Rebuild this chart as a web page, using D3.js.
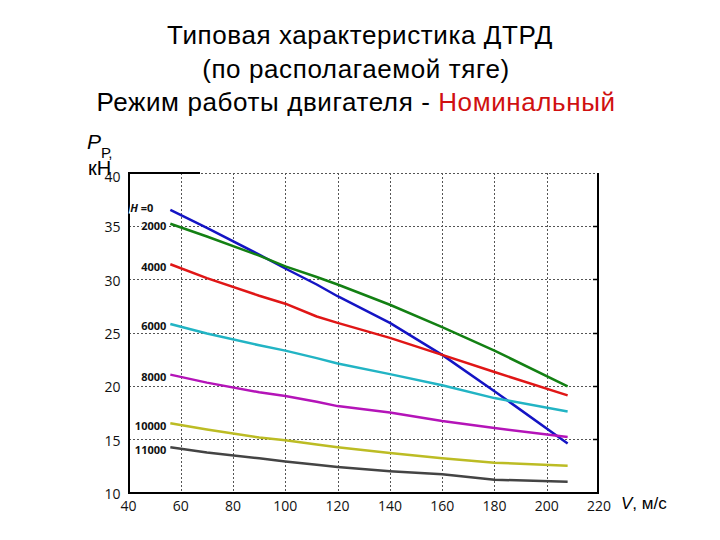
<!DOCTYPE html>
<meta charset="utf-8">
<head>
    <title>ДТРД</title>
</head>

<style>
body { margin: 0; background: #fff; }

.grid line {
  stroke: #555;
  stroke-width: 1;
  stroke-dasharray: 2,2;
  shape-rendering: crispEdges;
}

.frame {
  stroke: #000;
  stroke-width: 2;
  fill: none;
  shape-rendering: crispEdges;
}

.curve {
  fill: none;
  stroke-width: 2.5;
  stroke-linejoin: round;
}

.tick-label {
  font: 14px "Open Sans", sans-serif;
  fill: #111;
}

.alt-label {
  font: bold 11px "Open Sans", sans-serif;
  fill: #111;
  paint-order: stroke;
  stroke: #fff;
  stroke-width: 3px;
}

.title {
  font: 26px "Liberation Sans", Arial, sans-serif;
  letter-spacing: 0.6px;
  fill: #000;
  text-anchor: middle;
}
</style>
<body>
<script src="https://cdn.jsdelivr.net/npm/d3@7"></script>
<script>

// flight speed, m/s
var speeds = [56, 70, 90, 100, 112, 120, 140, 160, 180, 208];

// available thrust, kN, per altitude
var altitudes = ["0", "2000", "4000", "6000", "8000", "10000", "11000"];
var thrustH0     = [36.5, 34.8, 32.3, 31.0, 29.5, 28.4, 25.9, 22.9, 19.5, 14.6];
var thrustH2000  = [35.2, 34.0, 32.2, 31.2, 30.2, 29.5, 27.6, 25.5, 23.3, 19.95];
var thrustH4000  = [31.4, 30.1, 28.45, 27.7, 26.5, 25.9, 24.5, 22.9, 21.3, 19.1];
var thrustH6000  = [25.8, 24.9, 23.8, 23.3, 22.6, 22.1, 21.1, 20.05, 18.85, 17.6];
var thrustH8000  = [21.05, 20.3, 19.4, 19.05, 18.5, 18.1, 17.5, 16.7, 16.05, 15.2];
var thrustH10000 = [16.5, 15.9, 15.15, 14.9, 14.5, 14.25, 13.7, 13.2, 12.8, 12.5];
var thrustH11000 = [14.25, 13.75, 13.2, 12.9, 12.6, 12.4, 12.0, 11.7, 11.2, 11.0];

var xTicks = [40, 60, 80, 100, 120, 140, 160, 180, 200, 220];
var yTicks = [10, 15, 20, 25, 30, 35, 40];

var series = [thrustH0, thrustH2000, thrustH4000, thrustH6000, thrustH8000, thrustH10000, thrustH11000];
var colors = ["#1414c4", "#138013", "#e01616", "#22b4c4", "#b414b8", "#bcbc24", "#444444"];

var width = 720, height = 540;
var plot = {left: 128.5, right: 599, top: 172.5, bottom: 492.5};

var x = d3.scaleLinear().domain([40, 220]).range([plot.left, plot.right]);
var y = d3.scaleLinear().domain([10, 40]).range([plot.bottom, plot.top]);

var svg = d3.select("body").append("svg")
    .attr("width", width)
    .attr("height", height);

// title
var title = svg.append("g");
title.append("text").attr("class", "title").attr("x", 360).attr("y", 44)
    .text("Типовая характеристика ДТРД");
title.append("text").attr("class", "title").attr("x", 356).attr("y", 78)
    .text("(по располагаемой тяге)");
var t3 = title.append("text").attr("class", "title").attr("x", 356).attr("y", 111);
t3.append("tspan").text("Режим работы двигателя - ");
t3.append("tspan").style("fill", "#d01010").text("Номинальный");

// grid
var grid = svg.append("g").attr("class", "grid");
grid.selectAll(".gx")
    .data(xTicks.slice(1, -1))
  .enter().append("line")
    .attr("x1", function(d) { return Math.round(x(d)) + 0.5; })
    .attr("x2", function(d) { return Math.round(x(d)) + 0.5; })
    .attr("y1", plot.top)
    .attr("y2", plot.bottom);
grid.selectAll(".gy")
    .data(yTicks.slice(1))
  .enter().append("line")
    .attr("x1", plot.left)
    .attr("x2", plot.right)
    .attr("y1", function(d) { return Math.round(y(d)) + 0.5; })
    .attr("y2", function(d) { return Math.round(y(d)) + 0.5; });

// frame: left, bottom, right solid, top only partly solid
svg.append("path")
    .attr("class", "frame")
    .attr("d", "M" + x(67.5) + "," + plot.top + "H" + plot.left + "V" + plot.bottom +
               "H" + (plot.right - 1) + "V" + plot.top);

// small ticks on the right edge
svg.append("g").selectAll("line")
    .data(yTicks.slice(1, -1))
  .enter().append("line")
    .attr("x1", plot.right - 6)
    .attr("x2", plot.right)
    .attr("y1", function(d) { return Math.round(y(d)) + 0.5; })
    .attr("y2", function(d) { return Math.round(y(d)) + 0.5; })
    .attr("stroke", "#000")
    .attr("stroke-width", 1.5);

// tick labels
svg.append("g").selectAll("text")
    .data(xTicks)
  .enter().append("text")
    .attr("class", "tick-label")
    .attr("x", function(d) { return x(d); })
    .attr("y", plot.bottom + 18)
    .attr("text-anchor", "middle")
    .text(function(d) { return d; });

svg.append("g").selectAll("text")
    .data(yTicks)
  .enter().append("text")
    .attr("class", "tick-label")
    .attr("x", plot.left - 8)
    .attr("y", function(d) { return y(d) + (d === 40 ? 9.5 : 6.5); })
    .attr("text-anchor", "end")
    .text(function(d) { return d; });

// axis titles
var yt = svg.append("text")
    .attr("x", 87).attr("y", 149)
    .style("font", "21px 'Liberation Sans', Arial, sans-serif");
yt.append("tspan").style("font-style", "italic").text("P");
yt.append("tspan").attr("dy", 9).style("font-size", "15px").text("Р,");
svg.append("text")
    .attr("x", 88).attr("y", 175)
    .style("font", "20px 'Liberation Sans', Arial, sans-serif")
    .text("кН");

var xt = svg.append("text")
    .attr("x", 621).attr("y", 509)
    .style("font", "17px 'Liberation Sans', Arial, sans-serif");
xt.append("tspan").style("font-style", "italic").text("V");
xt.append("tspan").text(", м/с");

// curves
var line = d3.line()
    .x(function(d, i) { return x(speeds[i]); })
    .y(function(d) { return y(d); });

svg.append("g").selectAll("path")
    .data(series)
  .enter().append("path")
    .attr("class", "curve")
    .style("stroke", function(d, i) { return colors[i]; })
    .attr("d", line);

// altitude labels
var labels = svg.append("g").selectAll("text")
    .data(altitudes)
  .enter().append("text")
    .attr("class", "alt-label")
    .attr("x", x(speeds[0]) - 4)
    .attr("y", function(d, i) { return y(series[i][0]) + (i === 0 ? 2.5 : 6.5); })
    .attr("text-anchor", "end");

labels.each(function(d, i) {
  var t = d3.select(this);
  if (i === 0) {
    t.attr("x", x(speeds[0]) - 17);
    t.append("tspan").style("font-style", "italic").text("H");
    t.append("tspan").text(" =" + d);
  } else {
    t.text(d);
  }
});

</script>
</body>
